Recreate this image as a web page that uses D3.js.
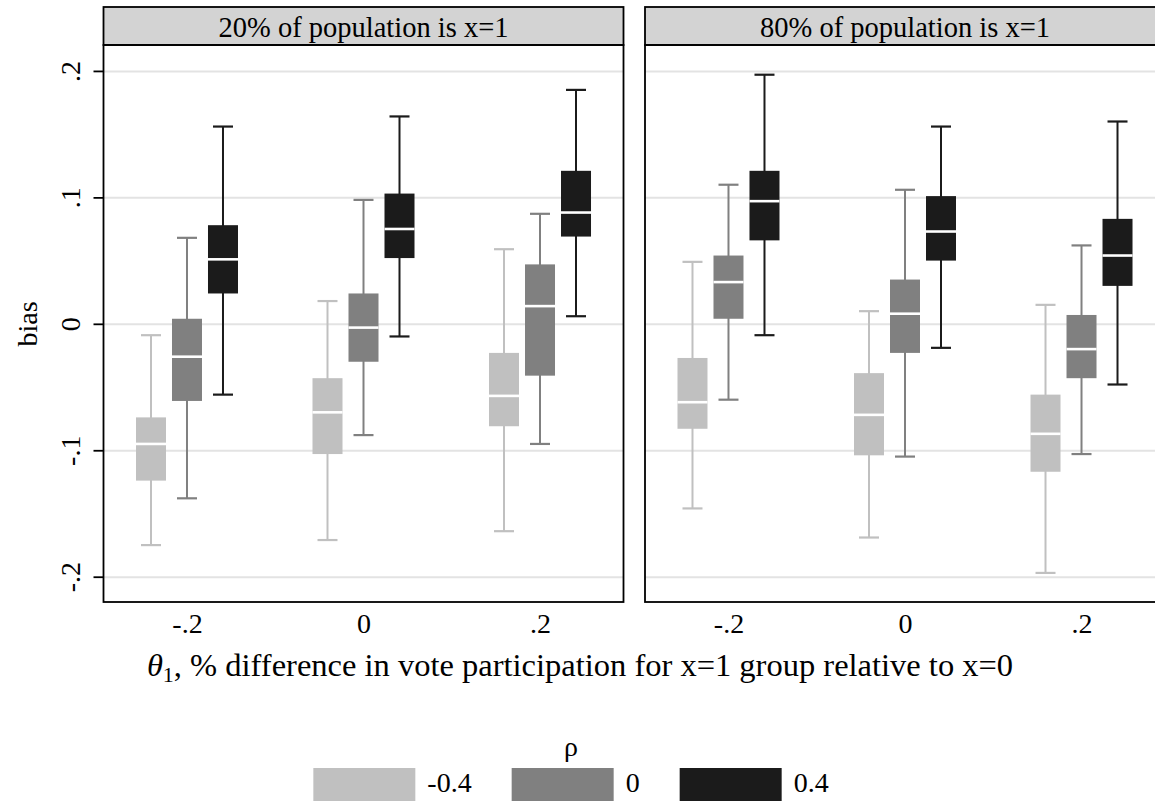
<!DOCTYPE html>
<html>
<head>
<meta charset="utf-8">
<script src="https://d3js.org/d3.v7.min.js"></script>
<style>
  body { margin: 0; background: #fff; }
  text { font-family: "Liberation Serif", "Times New Roman", serif; fill: #000; }
</style>
</head>
<body>
<div id="chart"></div>
<script>
var panels = ['20% of population is x=1', '80% of population is x=1'];
var thetas = ['-.2', '0', '.2'];
var rhos = ['-0.4', '0', '0.4'];
var yTicks = [-0.2, -0.1, 0, 0.1, 0.2];
var yTickLabels = ['-.2', '-.1', '0', '.1', '.2'];

// rows: theta -.2, 0, .2 ; within each theta rho -0.4, 0, 0.4
// [lower whisker, q1, median, q3, upper whisker]
var box20 = [
  [-0.175, -0.124, -0.095, -0.074, -0.009],
  [-0.138, -0.061, -0.026,  0.004,  0.068],
  [-0.056,  0.024,  0.051,  0.078,  0.156],
  [-0.171, -0.103, -0.070, -0.043,  0.018],
  [-0.088, -0.030, -0.003,  0.024,  0.098],
  [-0.010,  0.052,  0.075,  0.103,  0.164],
  [-0.164, -0.081, -0.057, -0.023,  0.059],
  [-0.095, -0.041,  0.014,  0.047,  0.087],
  [ 0.006,  0.069,  0.088,  0.121,  0.185]
];
var box80 = [
  [-0.146, -0.083, -0.062, -0.027,  0.049],
  [-0.060,  0.004,  0.033,  0.054,  0.110],
  [-0.009,  0.066,  0.097,  0.121,  0.197],
  [-0.169, -0.104, -0.072, -0.039,  0.010],
  [-0.105, -0.023,  0.008,  0.035,  0.106],
  [-0.019,  0.050,  0.073,  0.101,  0.156],
  [-0.197, -0.117, -0.087, -0.056,  0.015],
  [-0.103, -0.043, -0.020,  0.007,  0.062],
  [-0.048,  0.030,  0.054,  0.083,  0.160]
];
var panelData = [box20, box80];

var W = 1155, H = 801;
var panelLeft = [103.5, 645], panelW = 520;
var stripTop = 7, plotTop = 45, plotBottom = 602;
var boxW = 30, capW = 20;

var svg = d3.select('#chart').append('svg')
  .attr('width', W)
  .attr('height', H);

var y = d3.scaleLinear().domain([-0.22, 0.2205]).range([plotBottom, plotTop]);
var x0 = d3.scalePoint().domain(thetas).range([0, panelW]).padding(0.473);
var x1 = d3.scalePoint().domain(rhos).range([-36, 36]);
var color = d3.scaleOrdinal().domain(rhos).range(['#c0c0c0', '#808080', '#1b1b1b']);

panels.forEach(function(title, p) {
  var g = svg.append('g').attr('transform', 'translate(' + panelLeft[p] + ',0)');

  // strip
  g.append('rect')
    .attr('x', 0).attr('y', stripTop)
    .attr('width', panelW).attr('height', plotTop - stripTop)
    .attr('fill', '#d3d3d3').attr('stroke', '#000').attr('stroke-width', 1.8);
  g.append('text')
    .attr('x', panelW / 2).attr('y', 37)
    .attr('text-anchor', 'middle')
    .style('font-size', '28.5px')
    .text(title);

  // grid
  g.append('g')
    .call(d3.axisLeft(y).tickValues(yTicks).tickSize(-panelW).tickFormat(''))
    .call(function(s) {
      s.select('.domain').remove();
      s.selectAll('line').attr('stroke', '#e3e3e3').attr('stroke-width', 2);
    });

  // boxes
  var rows = panelData[p].map(function(d, i) {
    return {theta: thetas[Math.floor(i / 3)], rho: rhos[i % 3], s: d};
  });
  var box = g.selectAll('.box').data(rows).enter().append('g')
    .attr('class', 'box')
    .attr('transform', function(d) { return 'translate(' + (x0(d.theta) + x1(d.rho)) + ',0)'; });

  box.append('line')
    .attr('y1', function(d) { return y(d.s[0]); })
    .attr('y2', function(d) { return y(d.s[4]); })
    .attr('stroke', function(d) { return color(d.rho); })
    .attr('stroke-width', 2);
  box.selectAll('.cap').data(function(d) { return [[d.s[0], d.rho], [d.s[4], d.rho]]; })
    .enter().append('line')
    .attr('x1', -capW / 2).attr('x2', capW / 2)
    .attr('y1', function(c) { return y(c[0]); })
    .attr('y2', function(c) { return y(c[0]); })
    .attr('stroke', function(c) { return color(c[1]); })
    .attr('stroke-width', 2.2);
  box.append('rect')
    .attr('x', -boxW / 2).attr('width', boxW)
    .attr('y', function(d) { return y(d.s[3]); })
    .attr('height', function(d) { return y(d.s[1]) - y(d.s[3]); })
    .attr('fill', function(d) { return color(d.rho); });
  box.append('line')
    .attr('x1', -boxW / 2).attr('x2', boxW / 2)
    .attr('y1', function(d) { return y(d.s[2]); })
    .attr('y2', function(d) { return y(d.s[2]); })
    .attr('stroke', '#fff').attr('stroke-width', 2.6);

  // frame
  g.append('rect')
    .attr('x', 0).attr('y', plotTop)
    .attr('width', panelW).attr('height', plotBottom - plotTop)
    .attr('fill', 'none').attr('stroke', '#000').attr('stroke-width', 1.8);

  // x axis labels
  g.append('g')
    .attr('transform', 'translate(0,' + plotBottom + ')')
    .call(d3.axisBottom(x0).tickSize(0))
    .call(function(s) {
      s.select('.domain').remove();
      s.selectAll('text').attr('y', 31).attr('dy', null)
        .style('font-size', '28px').attr('font-family', null);
    });

  // y axis on first panel only
  if (p === 0) {
    g.append('g')
      .call(d3.axisLeft(y).tickValues(yTicks).tickSize(10)
        .tickFormat(function(d, i) { return yTickLabels[i]; }))
      .call(function(s) {
        s.select('.domain').remove();
        s.selectAll('line').attr('stroke', '#000').attr('stroke-width', 1.8);
        s.selectAll('text')
          .attr('x', null).attr('dy', null)
          .attr('text-anchor', 'middle')
          .attr('transform', 'translate(-24,0) rotate(-90)')
          .style('font-size', '28px').attr('font-family', null);
      });
  }
});

// axis titles
svg.append('text')
  .attr('transform', 'translate(37,324) rotate(-90)')
  .attr('text-anchor', 'middle')
  .style('font-size', '28px')
  .text('bias');

var xt = svg.append('text')
  .attr('x', 580).attr('y', 676)
  .attr('text-anchor', 'middle')
  .style('font-size', '32.5px');
xt.append('tspan').style('font-style', 'italic').text('θ');
xt.append('tspan').attr('dy', 6).style('font-size', '22px').text('1');
xt.append('tspan').attr('dy', -6).text(', % difference in vote participation for x=1 group relative to x=0');

// legend
svg.append('text')
  .attr('x', 571).attr('y', 756)
  .attr('text-anchor', 'middle')
  .style('font-size', '28px')
  .text('ρ');

var leg = svg.append('g');
var cx = 0;
rhos.forEach(function(r) {
  var it = leg.append('g').attr('transform', 'translate(' + cx + ',0)');
  it.append('rect').attr('x', 0).attr('y', 768).attr('width', 102).attr('height', 34)
    .attr('fill', color(r));
  var t = it.append('text').attr('x', 114).attr('y', 792)
    .style('font-size', '28px').text(r);
  cx += 114 + t.node().getComputedTextLength() + 40;
});
var legW = cx - 40;
leg.attr('transform', 'translate(' + (571 - legW / 2) + ',0)');
</script>
</body>
</html>
